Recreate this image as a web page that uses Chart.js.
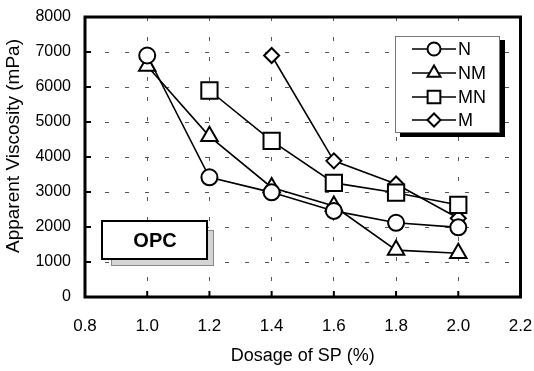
<!DOCTYPE html>
<html><head><meta charset="utf-8">
<script src="https://cdn.jsdelivr.net/npm/chart.js@4/dist/chart.umd.min.js"></script>
<style>html,body{margin:0;padding:0;background:#fff;}#wrap{width:534px;height:371px;}</style>
</head><body><div id="wrap"><canvas id="c" width="534" height="371"></canvas></div>
<script>
const dosage = [1.0, 1.2, 1.4, 1.6, 1.8, 2.0];
const seriesNames = ['N', 'NM', 'MN', 'M'];
const valuesN = [6900, 3420, 2990, 2460, 2120, 1990];
const valuesNM = [6600, 4590, 3130, 2600, 1340, 1250];
const valuesMN = [null, 5900, 4460, 3260, 2980, 2630];
const valuesM = [null, null, 6900, 3890, 3230, 2250];
const xTicks = [0.8, 1.0, 1.2, 1.4, 1.6, 1.8, 2.0, 2.2];
const yTicks = [0, 1000, 2000, 3000, 4000, 5000, 6000, 7000, 8000];
const xTitle = 'Dosage of SP (%)';
const yTitle = 'Apparent Viscosity (mPa)';
const boxLabel = 'OPC';

const FONT = "'Liberation Sans', Arial, sans-serif";
const styles = [
  {pointStyle: 'circle', radius: 8, legendRadius: 6.5},
  {pointStyle: 'triangle', radius: 9.5, legendRadius: 7.5},
  {pointStyle: 'rect', radius: 11.5, legendRadius: 9},
  {pointStyle: 'rectRot', radius: 7.5, legendRadius: 6.5}
];
const allValues = [valuesN, valuesNM, valuesMN, valuesM];

const datasets = seriesNames.map((name, i) => ({
  label: name,
  data: dosage.map((x, j) => ({x: x, y: allValues[i][j]})).filter(p => p.y !== null),
  borderColor: '#000',
  borderWidth: 1.6,
  backgroundColor: '#fff',
  pointStyle: styles[i].pointStyle,
  pointRadius: styles[i].radius,
  pointBorderWidth: 2,
  pointBorderColor: '#000',
  pointBackgroundColor: '#fff',
  tension: 0,
  fill: false
}));

function drawMarker(ctx, style, r, x, y) {
  ctx.save();
  ctx.fillStyle = '#fff';
  ctx.strokeStyle = '#000';
  ctx.lineWidth = 2;
  Chart.helpers.drawPoint(ctx, {pointStyle: style, radius: r, rotation: 0, borderWidth: 2}, x, y);
  ctx.restore();
}

const framePlugin = {
  id: 'frame',
  beforeDatasetsDraw(chart) {
    const ctx = chart.ctx, a = chart.chartArea;
    const xs = chart.scales.x, ys = chart.scales.y;
    ctx.save();
    ctx.strokeStyle = '#000';
    ctx.lineWidth = 2;
    xTicks.forEach(v => {
      const px = xs.getPixelForValue(v);
      ctx.beginPath(); ctx.moveTo(px, a.bottom); ctx.lineTo(px, a.bottom - 6); ctx.stroke();
    });
    yTicks.forEach(v => {
      const py = ys.getPixelForValue(v);
      ctx.beginPath(); ctx.moveTo(a.left, py); ctx.lineTo(a.left + 6, py); ctx.stroke();
    });
    ctx.lineWidth = 3;
    ctx.strokeRect(a.left, a.top, a.right - a.left, a.bottom - a.top);
    // OPC box
    ctx.fillStyle = '#d4d4d4';
    ctx.fillRect(111, 230, 103, 36);
    ctx.lineWidth = 1;
    ctx.strokeStyle = '#888';
    ctx.strokeRect(111.5, 230.5, 102, 35);
    ctx.fillStyle = '#fff';
    ctx.fillRect(102, 221, 105, 38);
    ctx.strokeStyle = '#000';
    ctx.lineWidth = 2;
    ctx.strokeRect(102, 221, 105, 38);
    ctx.fillStyle = '#000';
    ctx.font = 'bold 20px ' + FONT;
    ctx.textAlign = 'center';
    ctx.textBaseline = 'middle';
    ctx.fillText(boxLabel, 155, 241);
    // Y title
    ctx.save();
    ctx.translate(14, 146);
    ctx.rotate(-Math.PI / 2);
    ctx.font = '19px ' + FONT;
    ctx.fillText(yTitle, 0, 0);
    ctx.restore();
    ctx.restore();
  },
  afterDatasetsDraw(chart) {
    const ctx = chart.ctx;
    ctx.save();
    ctx.fillStyle = '#000';
    ctx.fillRect(400, 40, 105, 97);
    ctx.fillStyle = '#fff';
    ctx.fillRect(395, 36, 105, 97);
    ctx.strokeStyle = '#777';
    ctx.lineWidth = 1;
    ctx.strokeRect(395.5, 36.5, 104, 96);
    const rows = [49, 73, 97, 120];
    seriesNames.forEach((name, i) => {
      const y = rows[i];
      ctx.strokeStyle = '#000';
      ctx.lineWidth = 1.6;
      ctx.beginPath(); ctx.moveTo(412, y); ctx.lineTo(456, y); ctx.stroke();
      drawMarker(ctx, styles[i].pointStyle, styles[i].legendRadius, 434, y);
      ctx.fillStyle = '#000';
      ctx.font = '18px ' + FONT;
      ctx.textAlign = 'left';
      ctx.textBaseline = 'middle';
      ctx.fillText(name, 458, y + 1);
    });
    ctx.restore();
  }
};

new Chart(document.getElementById('c'), {
  type: 'line',
  data: {datasets: datasets},
  options: {
    responsive: false,
    devicePixelRatio: 1,
    animation: false,
    layout: {padding: {left: 0, right: 11, top: 17, bottom: 0}},
    plugins: {legend: {display: false}, tooltip: {enabled: false}},
    scales: {
      x: {
        type: 'linear', min: 0.8, max: 2.2,
        afterBuildTicks: s => { s.ticks = xTicks.map(v => ({value: v})); },
        afterFit: s => { s.height = 74; s.paddingLeft = 0; s.paddingRight = 0; },
        grid: {color: '#555', lineWidth: 1, drawTicks: false},
        border: {display: false, dash: [4, 16]},
        ticks: {color: '#000', font: {family: FONT, size: 17}, padding: 19, maxRotation: 0,
                callback: v => Number(v).toFixed(1)},
        title: {display: true, text: xTitle, color: '#000', font: {family: FONT, size: 18},
                padding: {top: 0, bottom: 4}}
      },
      y: {
        type: 'linear', min: 0, max: 8000,
        afterBuildTicks: s => { s.ticks = yTicks.map(v => ({value: v})); },
        afterFit: s => { s.width = 85; s.paddingTop = 0; s.paddingBottom = 0; },
        grid: {color: '#555', lineWidth: 1, drawTicks: false},
        border: {display: false, dash: [4, 16]},
        ticks: {color: '#000', font: {family: FONT, size: 16}, padding: 14,
                callback: v => String(v)}
      }
    }
  },
  plugins: [framePlugin]
});
</script></body></html>
